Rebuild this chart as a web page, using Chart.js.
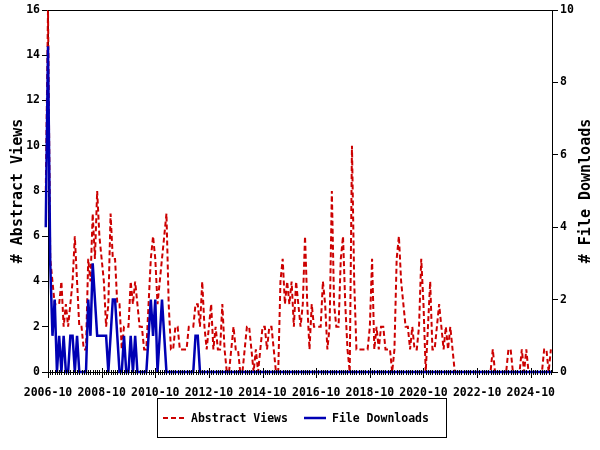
<!DOCTYPE html>
<html><head><meta charset="utf-8">
<script src="https://cdn.jsdelivr.net/npm/chart.js@4/dist/chart.umd.min.js"></script>
<style>html,body{margin:0;padding:0;background:#fff}</style>
</head><body>
<canvas id="c" width="600" height="450"></canvas>
<script>
// monthly series, first entry = 2006-09
const firstYear = 2006, firstMonth = 9;
const abstractViews = [8,
16,5,4,3,3,3,4,2,3,2,
3,4,6,4,2,2,1,1,5,4,
7,5,8,6,5,4,2,3,7,5,
5,3,3,1,2,2,2,4,3,4,
3,2,2,1,1,3,5,6,5,3,
4,5,6,7,3,1,1,2,2,1,
1,1,1,2,2,2,3,3,2,4,
2,1,2,3,1,2,1,1,3,1,
0,0,1,2,1,1,0,0,1,2,
2,1,0,1,0,1,2,2,1,2,
2,1,0,0,4,5,3,4,3,4,
2,4,3,2,3,6,3,1,3,2,
2,2,2,4,3,1,2,8,3,2,
2,5,6,3,1,0,10,4,1,1,
1,1,1,1,2,5,1,2,1,2,
2,1,1,1,0,1,5,6,4,3,
2,2,1,2,1,1,2,5,3,0,
2,4,1,1,2,3,2,1,2,1,
2,1,0,0,0,0,0,0,0,0,
0,0,0,0,0,0,0,0,0,1,
0,0,0,0,0,0,1,1,0,0,
0,0,1,0,1,0,0,0,0,0,
0,0,1,1,0,1];
const fileDownloads = [4,
9,3,1,2,0,1,0,1,0,0,
1,1,0,1,0,0,0,0,2,1,
3,2,1,1,1,1,1,0,1,2,
2,1,0,0,1,0,0,1,0,1,
0,0,0,0,0,1,2,1,2,0,
1,2,1,0,0,0,0,0,0,0,
0,0,0,0,0,0,1,1,0,0,
0,0,0,0,0,0,0,0,0,0,
0,0,0,0,0,0,0,0,0,0,
0,0,0,0,0,0,0,0,0,0,
0,0,0,0,0,0,0,0,0,0,
0,0,0,0,0,0,0,0,0,0,
0,0,0,0,0,0,0,0,0,0,
0,0,0,0,0,0,0,0,0,0,
0,0,0,0,0,0,0,0,0,0,
0,0,0,0,0,0,0,0,0,0,
0,0,0,0,0,0,0,0,0,0,
0,0,0,0,0,0,0,0,0,0,
0,0,0,0,0,0,0,0,0,0,
0,0,0,0,0,0,0,0,0,0,
0,0,0,0,0,0,0,0,0,0,
0,0,0,0,0,0,0,0,0,0,
0,0,0,0,0,0];
const xTickLabels = ['2006-10','2008-10','2010-10','2012-10','2014-10','2016-10','2018-10','2020-10','2022-10','2024-10'];
const leftTicks = [0,2,4,6,8,10,12,14,16];
const rightTicks = [0,2,4,6,8,10];
const seriesNames = ['Abstract Views','File Downloads'];
const axisTitles = ['# Abstract Views','# File Downloads'];

const months = abstractViews.map((_, k) => {
  const m = firstMonth - 1 + k;
  return (firstYear + Math.floor(m / 12)) + '-' + String(m % 12 + 1).padStart(2, '0');
});

const RED = '#cc0000', BLUE = '#0000b4';
const MONO = '"DejaVu Sans Mono", "Liberation Mono", monospace';
const tickFont = {family: MONO, size: 11.5, weight: 'bold'};

const extras = {
  id: 'extras',
  afterDatasetsDraw(chart) {
    const {ctx, chartArea: a, scales} = chart;
    const xs = scales.x;
    ctx.save();
    ctx.strokeStyle = '#000';
    ctx.lineWidth = 1;
    ctx.beginPath(); ctx.moveTo(a.left, a.top + 0.5); ctx.lineTo(a.right, a.top + 0.5); ctx.stroke();
    const y0 = a.bottom;
    ctx.beginPath();
    for (let k = 1; k < months.length; k++) {
      const px = Math.round(xs.getPixelForValue(k)) + 0.5;
      if (px > a.right + 1) break;
      const major = xTickLabels.includes(months[k]);
      ctx.moveTo(px, y0 - (major ? 4 : 2));
      ctx.lineTo(px, y0 + (major ? 6 : 3));
    }
    ctx.stroke();
    ctx.restore();
  },
  afterDraw(chart) {
    const {ctx, chartArea: a} = chart;
    ctx.save();
    ctx.fillStyle = '#000';
    ctx.font = 'bold 15px ' + MONO;
    ctx.textAlign = 'center';
    ctx.textBaseline = 'middle';
    const cy = (a.top + a.bottom) / 2;
    ctx.save(); ctx.translate(18, cy); ctx.rotate(-Math.PI / 2); ctx.fillText(axisTitles[0], 0, 0); ctx.restore();
    ctx.save(); ctx.translate(586, cy); ctx.rotate(-Math.PI / 2); ctx.fillText(axisTitles[1], 0, 0); ctx.restore();
    ctx.strokeStyle = '#000'; ctx.lineWidth = 1;
    ctx.strokeRect(157.5, 398.5, 289, 39);
    const ly = 418;
    ctx.lineWidth = 2;
    ctx.strokeStyle = RED; ctx.setLineDash([5, 3]);
    ctx.beginPath(); ctx.moveTo(163, ly); ctx.lineTo(184, ly); ctx.stroke();
    ctx.setLineDash([]);
    ctx.strokeStyle = BLUE; ctx.lineWidth = 2.5;
    ctx.beginPath(); ctx.moveTo(304, ly); ctx.lineTo(326, ly); ctx.stroke();
    ctx.font = 'bold 11.5px ' + MONO;
    ctx.textAlign = 'left';
    ctx.fillStyle = '#000';
    ctx.fillText(seriesNames[0], 191, ly + 1);
    ctx.fillText(seriesNames[1], 332, ly + 1);
    ctx.restore();
  }
};

new Chart(document.getElementById('c'), {
  type: 'line',
  data: {
    datasets: [
      {label: seriesNames[0], data: abstractViews.map((v, k) => ({x: k, y: v})), yAxisID: 'y',
       borderColor: RED, borderWidth: 2, borderDash: [5, 3], pointRadius: 0, tension: 0, fill: false, clip: false, order: 2},
      {label: seriesNames[1], data: fileDownloads.map((v, k) => ({x: k, y: v})), yAxisID: 'y2',
       borderColor: BLUE, borderWidth: 2.5, pointRadius: 0, tension: 0, fill: false, clip: false, order: 1}
    ]
  },
  options: {
    responsive: false,
    animation: false,
    devicePixelRatio: 1,
    layout: {padding: {top: 10, left: 0, right: 0, bottom: 0}},
    plugins: {legend: {display: false}, tooltip: {enabled: false}},
    scales: {
      x: {
        type: 'linear', position: 'bottom', min: 1, max: 226.5,
        afterBuildTicks: s => { s.ticks = xTickLabels.map(l => ({value: months.indexOf(l)})); },
        afterFit: s => { s.height = 78; },
        grid: {display: false},
        border: {display: true, color: '#000', width: 1},
        ticks: {autoSkip: false, maxRotation: 0, padding: 6, color: '#000', font: tickFont,
                callback: v => months[v]}
      },
      y: {
        position: 'left', min: 0, max: 16,
        afterBuildTicks: s => { s.ticks = leftTicks.map(v => ({value: v})); },
        afterFit: s => { s.width = 48; },
        grid: {drawOnChartArea: false, drawTicks: true, tickLength: 6, color: '#000', tickColor: '#000'},
        border: {display: true, color: '#000', width: 1},
        ticks: {padding: 2, color: '#000', font: tickFont}
      },
      y2: {
        position: 'right', min: 0, max: 10,
        afterBuildTicks: s => { s.ticks = rightTicks.map(v => ({value: v})); },
        afterFit: s => { s.width = 48; },
        grid: {drawOnChartArea: false, drawTicks: true, tickLength: 6, color: '#000', tickColor: '#000'},
        border: {display: true, color: '#000', width: 1},
        ticks: {padding: 2, color: '#000', font: tickFont}
      }
    }
  },
  plugins: [extras]
});
</script>
</body></html>
